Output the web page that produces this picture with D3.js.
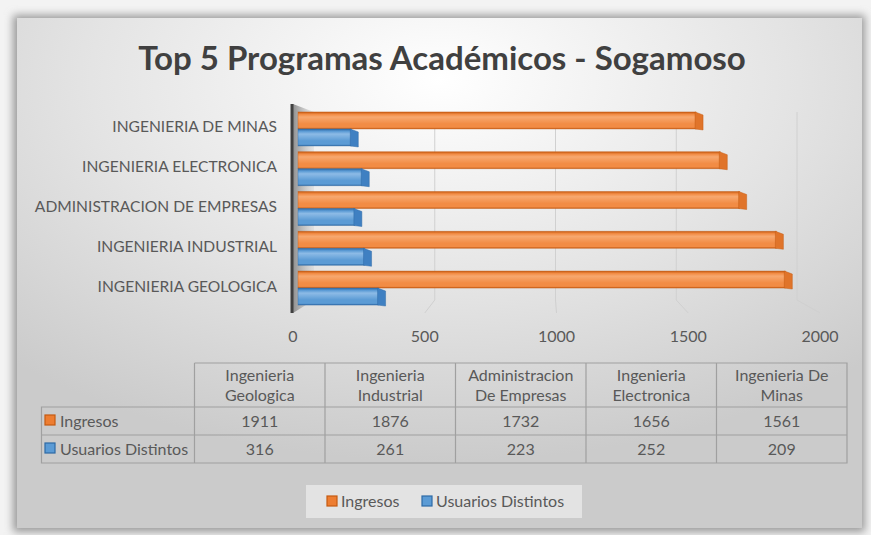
<!DOCTYPE html>
<html>
<head>
<meta charset="utf-8">
<script src="https://cdn.jsdelivr.net/npm/d3@7"></script>
<style>
  html, body { margin: 0; padding: 0; background: #f0f0f0; }
  svg { display: block; font-family: Lato, 'Open Sans', sans-serif; }
</style>
</head>
<body>
<div id="chart"></div>
<script>
// chart data
const categories = ['Ingenieria Geologica', 'Ingenieria Industrial', 'Administracion De Empresas', 'Ingenieria Electronica', 'Ingenieria De Minas'];
const ingresos = [1911, 1876, 1732, 1656, 1561];
const usuarios = [316, 261, 223, 252, 209];
const seriesNames = ['Ingresos', 'Usuarios Distintos'];
const xTicks = [0, 500, 1000, 1500, 2000];

const width = 871;
const height = 535;

const palette = {
  Ingresos: { main: '#f28c45', light: '#f7a86f', dark: '#c55a11', cap: '#e0742a', key: '#ed7d31' },
  'Usuarios Distintos': { main: '#5b9bd5', light: '#8dbbe6', dark: '#2e6aa6', cap: '#3f80c2', key: '#5b9bd5' }
};

const svg = d3.select('#chart').append('svg')
  .attr('width', width)
  .attr('height', height);

const defs = svg.append('defs');

// card background
const bg = defs.append('radialGradient').attr('id', 'cardBg')
  .attr('cx', '50%').attr('cy', '12%').attr('r', '75%');
bg.append('stop').attr('offset', '0%').attr('stop-color', '#ffffff');
bg.append('stop').attr('offset', '55%').attr('stop-color', '#e4e4e4');
bg.append('stop').attr('offset', '100%').attr('stop-color', '#cbcbcb');

const shadow = defs.append('filter').attr('id', 'shadow')
  .attr('x', '-5%').attr('y', '-5%').attr('width', '110%').attr('height', '110%');
shadow.append('feGaussianBlur').attr('stdDeviation', 4);

// bar gradients (vertical, one per series)
seriesNames.forEach((s, i) => {
  const c = palette[s];
  const g = defs.append('linearGradient').attr('id', 'bar' + i)
    .attr('x1', 0).attr('y1', 0).attr('x2', 0).attr('y2', 1);
  g.append('stop').attr('offset', '0%').attr('stop-color', c.dark);
  g.append('stop').attr('offset', '14%').attr('stop-color', c.main);
  g.append('stop').attr('offset', '30%').attr('stop-color', c.light);
  g.append('stop').attr('offset', '70%').attr('stop-color', c.main);
  g.append('stop').attr('offset', '90%').attr('stop-color', c.main);
  g.append('stop').attr('offset', '100%').attr('stop-color', c.dark);
});

const wallGrad = defs.append('linearGradient').attr('id', 'wall')
  .attr('x1', 0).attr('y1', 0).attr('x2', 1).attr('y2', 0);
wallGrad.append('stop').attr('offset', '0%').attr('stop-color', '#8f8f8f');
wallGrad.append('stop').attr('offset', '100%').attr('stop-color', '#c8c8c8').attr('stop-opacity', 0.3);

svg.append('rect').attr('width', width).attr('height', height).attr('fill', '#f3f3f3');
svg.append('rect')
  .attr('x', 13).attr('y', 15).attr('width', 852).attr('height', 517)
  .attr('fill', '#9a9a9a').attr('filter', 'url(#shadow)');
svg.append('rect')
  .attr('x', 17).attr('y', 18).attr('width', 845).attr('height', 510)
  .attr('fill', 'url(#cardBg)');

// title
svg.append('text')
  .attr('x', 442).attr('y', 70)
  .attr('text-anchor', 'middle')
  .attr('font-size', 33)
  .attr('font-weight', 'bold')
  .attr('fill', '#404040')
  .text('Top 5 Programas Académicos - Sogamoso');

// scales: front edge (tick labels), back wall (gridlines), bar depth
const xFront = d3.scaleLinear().domain([0, 2000]).range([293, 820]);
const xBack = d3.scaleLinear().domain([0, 2000]).range([314, 797]);
const xBar = d3.scaleLinear().domain([0, 2000]).range([298, 808]);

const yBand = d3.scaleBand()
  .domain(categories.slice().reverse())
  .range([104, 313])
  .paddingInner(0.145)
  .paddingOuter(0.2);
const ySub = d3.scaleBand().domain(seriesNames).range([0, yBand.bandwidth()]);

const backTop = 112;
const backBottom = 300;
const frontTop = 104;
const frontBottom = 313;

// left wall
svg.append('path')
  .attr('d', `M${xFront(0)},${frontTop}L${xBack(0)},${backTop}L${xBack(0)},${backBottom}L${xFront(0)},${frontBottom}Z`)
  .attr('fill', 'url(#wall)');

// gridlines on back wall and floor
const grid = svg.append('g').attr('fill', 'none').attr('stroke', '#d0d0d0').attr('stroke-width', 1);
grid.selectAll('path')
  .data(xTicks.filter(d => d > 0))
  .join('path')
  .attr('d', d => `M${xBack(d)},${backTop}L${xBack(d)},${backBottom}L${xFront(d)},${frontBottom}`);

// bars
const values = { Ingresos: ingresos, 'Usuarios Distintos': usuarios };
const bars = svg.append('g');
seriesNames.forEach((s, si) => {
  const c = palette[s];
  const rows = categories.map((cat, i) => ({ cat, v: values[s][i] }));
  const g = bars.append('g');
  g.selectAll('rect')
    .data(rows)
    .join('rect')
    .attr('x', xBar(0))
    .attr('y', d => yBand(d.cat) + ySub(s))
    .attr('width', d => xBar(d.v) - xBar(0))
    .attr('height', ySub.bandwidth())
    .attr('fill', `url(#bar${si})`)
    .attr('stroke', c.dark)
    .attr('stroke-opacity', 0.5)
    .attr('stroke-width', 0.8);
  // end caps
  g.selectAll('path')
    .data(rows)
    .join('path')
    .attr('d', d => {
      const x1 = xBar(d.v);
      const y = yBand(d.cat) + ySub(s);
      const h = ySub.bandwidth();
      return `M${x1 - 1},${y}L${x1 + 7},${y + 3}L${x1 + 7},${y + h + 1}L${x1 - 1},${y + h}Z`;
    })
    .attr('fill', c.cap)
    .attr('stroke', c.dark)
    .attr('stroke-opacity', 0.6)
    .attr('stroke-width', 0.8);
});

// vertical axis line
svg.append('line')
  .attr('x1', xFront(0) - 1).attr('x2', xFront(0) - 1)
  .attr('y1', frontTop).attr('y2', frontBottom)
  .attr('stroke', '#404040').attr('stroke-width', 3);

// category labels
svg.append('g')
  .selectAll('text')
  .data(categories)
  .join('text')
  .attr('x', 277)
  .attr('y', d => yBand(d) + yBand.bandwidth() / 2 - 2)
  .attr('dy', '0.35em')
  .attr('text-anchor', 'end')
  .attr('font-size', 15.6)
  .attr('fill', '#595959')
  .text(d => d.toUpperCase());

// value tick labels
svg.append('g')
  .selectAll('text')
  .data(xTicks)
  .join('text')
  .attr('x', d => xFront(d))
  .attr('y', 342)
  .attr('text-anchor', 'middle')
  .attr('font-size', 16)
  .attr('fill', '#595959')
  .text(d => d);

// data table
const colX = d3.scaleBand().domain(categories).range([194.5, 847]);
const tableLeft = 41.5;
const rowY = [363, 407, 435, 463];
const tbl = svg.append('g').attr('font-size', 16).attr('fill', '#595959');
const border = '#a0a0a0';

tbl.append('path')
  .attr('fill', 'none').attr('stroke', border).attr('stroke-width', 1.2)
  .attr('d', () => {
    let p = `M194.5,${rowY[0]}H847V${rowY[3]}H${tableLeft}V${rowY[1]}H847`;
    p += `M${tableLeft},${rowY[2]}H847`;
    p += `M194.5,${rowY[0]}V${rowY[3]}`;
    categories.forEach(c => { p += `M${colX(c) + colX.bandwidth()},${rowY[0]}V${rowY[3]}`; });
    return p;
  });

// header, wrapped into lines
const header = tbl.selectAll('text.head')
  .data(categories)
  .join('text')
  .attr('class', 'head')
  .attr('text-anchor', 'middle');
header.each(function (d) {
  const el = d3.select(this);
  const words = d.split(' ');
  const lines = [];
  let cur = [];
  words.forEach(w => {
    const test = cur.concat(w).join(' ');
    el.text(test);
    if (this.getComputedTextLength() > 116 && cur.length) {
      lines.push(cur.join(' '));
      cur = [w];
    } else {
      cur.push(w);
    }
  });
  lines.push(cur.join(' '));
  el.text(null);
  lines.forEach((ln, i) => {
    el.append('tspan')
      .attr('x', colX(d) + colX.bandwidth() / 2)
      .attr('y', 381 + i * 20)
      .text(ln);
  });
});

seriesNames.forEach((s, si) => {
  const yText = rowY[si + 1] + 20;
  tbl.append('rect')
    .attr('x', 45).attr('y', rowY[si + 1] + 8)
    .attr('width', 10).attr('height', 10)
    .attr('fill', palette[s].key)
    .attr('stroke', palette[s].dark).attr('stroke-width', 1.2);
  tbl.append('text')
    .attr('x', 60).attr('y', yText)
    .text(s);
  tbl.selectAll(null)
    .data(values[s])
    .join('text')
    .attr('x', (d, i) => colX(categories[i]) + colX.bandwidth() / 2)
    .attr('y', yText)
    .attr('text-anchor', 'middle')
    .text(d => d);
});

// legend
const legend = svg.append('g');
legend.append('rect')
  .attr('x', 306).attr('y', 485).attr('width', 276).attr('height', 33)
  .attr('fill', '#e3e3e3');
const legendX = [327, 422];
seriesNames.forEach((s, i) => {
  legend.append('rect')
    .attr('x', legendX[i]).attr('y', 496)
    .attr('width', 10).attr('height', 10)
    .attr('fill', palette[s].key)
    .attr('stroke', palette[s].dark).attr('stroke-width', 1.2);
  legend.append('text')
    .attr('x', legendX[i] + 14).attr('y', 507)
    .attr('font-size', 16)
    .attr('fill', '#595959')
    .text(s);
});
</script>
</body>
</html>
